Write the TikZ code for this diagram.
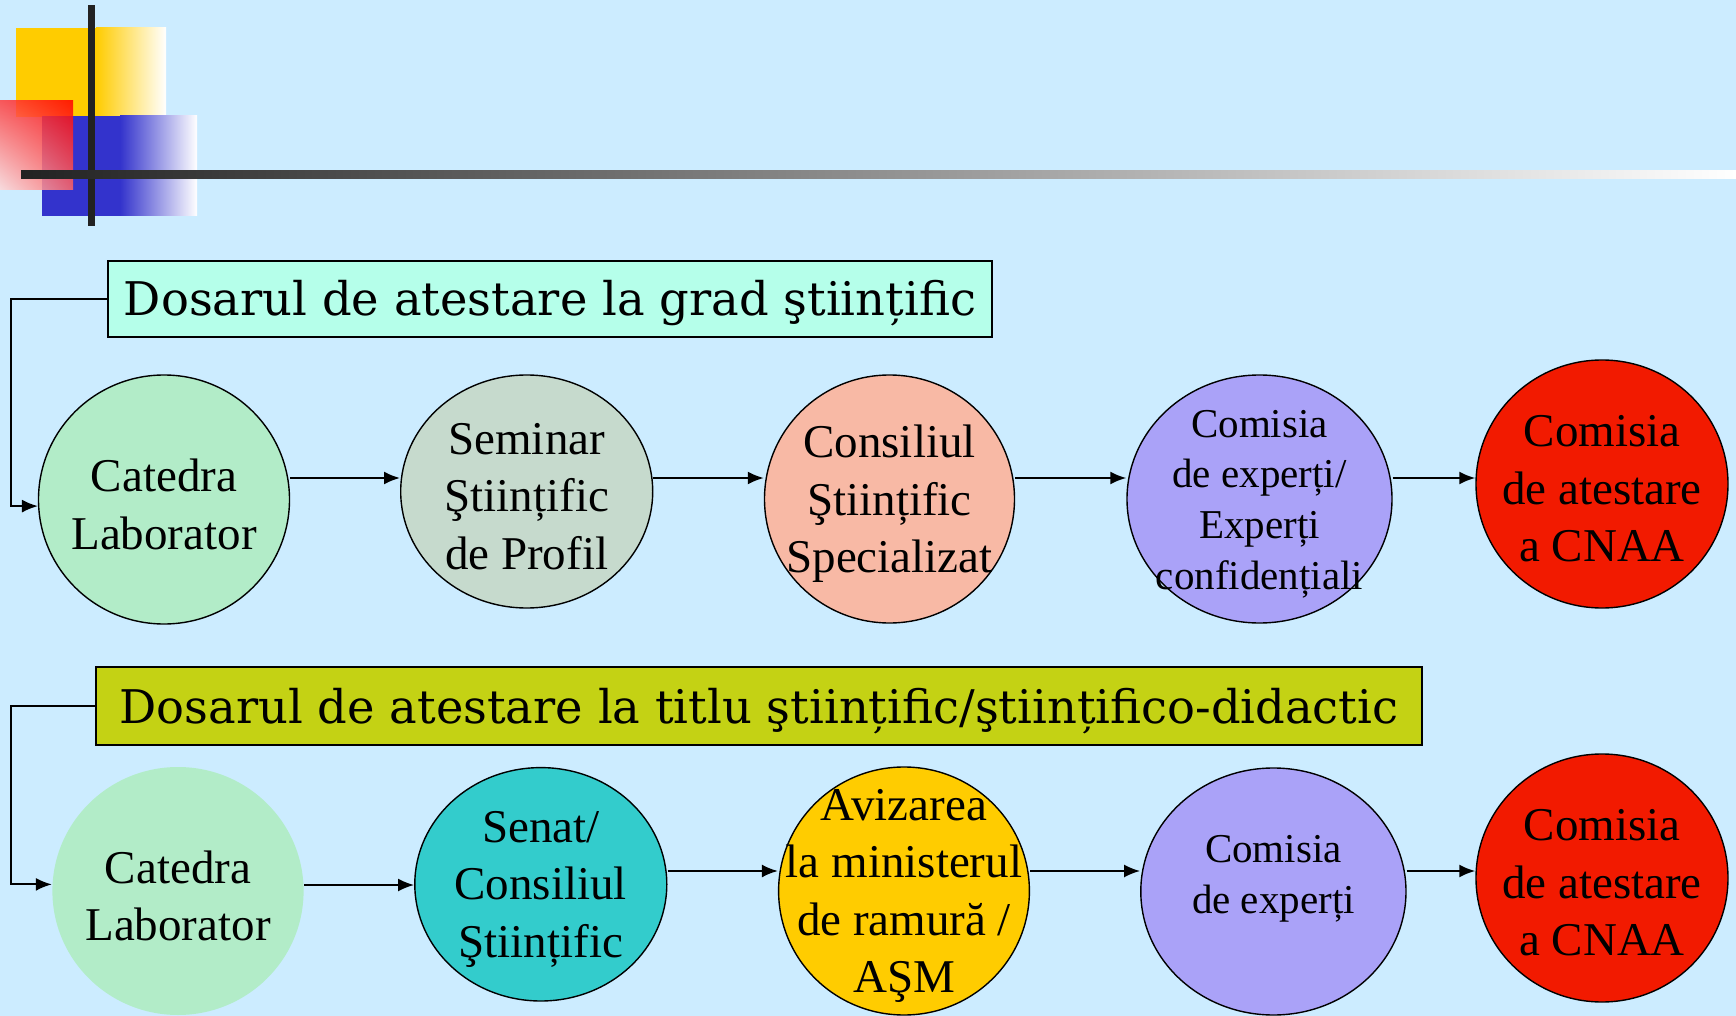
\documentclass[tikz,border=0pt]{standalone}
\usepackage{fontspec}
\setmainfont{Liberation Serif}
\newfontfamily\titlefont{DejaVu Serif}
\usetikzlibrary{shapes.geometric, arrows.meta, shadings}

\definecolor{sky}{RGB}{204,236,255}
\definecolor{ink}{RGB}{34,34,34}
\definecolor{yel}{RGB}{255,204,0}
\definecolor{blu}{RGB}{51,51,204}
\definecolor{aqua}{RGB}{181,255,234}
\definecolor{olive}{RGB}{196,210,20}
\definecolor{mint}{RGB}{178,236,200}
\definecolor{sage}{RGB}{198,218,205}
\definecolor{salmon}{RGB}{248,185,165}
\definecolor{lilac}{RGB}{170,162,248}
\definecolor{scarlet}{RGB}{242,26,0}
\definecolor{teal}{RGB}{51,204,204}

\begin{document}
\begin{tikzpicture}[x=0.5pt, y=-0.5pt]
      \tikzstyle{bub}=[shape=ellipse, draw, line width=0.7pt, inner sep=0pt,
                       minimum width=126pt, minimum height=124pt]
      \tikzstyle{lbl}=[align=center, yshift=-2.5pt, font=\fontsize{23.5}{28.8}\selectfont]
      \tikzstyle{small}=[align=center, yshift=-2.5pt, font=\fontsize{20.5}{25.3}\selectfont]
      \tikzstyle{title}=[draw, line width=1pt, inner sep=0pt, text height=20pt, text depth=3pt,
                         font=\titlefont\fontsize{23.2}{26}\selectfont]
      \tikzstyle{arrow}=[line width=1pt, -{Latex[length=8pt, width=6.5pt]}]

      % background and corner decoration
      \fill[sky] (0, 0) rectangle (1736, 1016);
      \useasboundingbox (0, 0) rectangle (1736, 1016);
      \fill[yel] (15.7, 28) rectangle (96, 117);
      \shade[left color=yel, right color=white] (96, 28) rectangle (166, 117);
      \fill[blu] (41.5, 116) rectangle (120, 216);
      \shade[left color=blu, right color=white] (120, 116) rectangle (197, 216);
      \shade[opacity=0.85, upper right=red, upper left=red!75,
             lower right=red!60, lower left=red!15] (0, 101) rectangle (73, 190);
      \fill[ink] (88, 5) rectangle (94.5, 226);
      \shade[left color=ink, right color=white] (21, 171) rectangle (1736, 179);

      % titles
      \node[title, fill=aqua, minimum width=441.75pt, minimum height=37.8pt]
        (grad) at (550, 299) {Dosarul de atestare la grad ştiințific};
      \node[title, fill=olive, minimum width=662.9pt, minimum height=39pt]
        (titlu) at (759, 706) {Dosarul de atestare la titlu ştiințific/ştiințifico-didactic};

      % first row
      \node[bub, fill=mint, minimum width=125.5pt, minimum height=124.5pt,
            label={[lbl]center:Catedra\\Laborator}] (c1) at (164, 499.5) {};
      \node[bub, fill=sage, minimum height=116.5pt,
            label={[lbl]center:Seminar\\Ştiințific\\de Profil}] (c2) at (526.7, 491.5) {};
      \node[bub, fill=salmon, minimum width=125pt,
            label={[lbl]center:Consiliul\\Ştiințific\\Specializat}] (c3) at (889.5, 499) {};
      \node[bub, fill=lilac, minimum width=132.5pt,
            label={[small]center:Comisia\\de experți/\\Experți\\confidențiali}] (c4) at (1259.5, 499) {};
      \node[bub, fill=scarlet,
            label={[lbl]center:Comisia\\de atestare\\a CNAA}] (c5) at (1602, 484) {};

      % second row
      \node[bub, draw=none, fill=mint, minimum width=125.6pt,
            label={[lbl]center:Catedra\\Laborator}] (d1) at (178, 891) {};
      \node[bub, fill=teal, minimum height=116.7pt,
            label={[lbl]center:Senat/\\Consiliul\\Ştiințific}] (d2) at (540.8, 884.3) {};
      \node[bub, fill=yel, minimum width=125.4pt,
            label={[lbl]center:Avizarea\\la ministerul\\de ramură /\\AŞM}] (d3) at (904, 891) {};
      \node[bub, fill=lilac, minimum width=132.6pt, minimum height=123.5pt,
            label={[small, yshift=9pt]center:Comisia\\de experți}] (d4) at (1273.4, 891.5) {};
      \node[bub, fill=scarlet,
            label={[lbl]center:Comisia\\de atestare\\a CNAA}] (d5) at (1602, 878) {};

      \coordinate (lft) at (11, 0);
      \coordinate (r1) at (0, 478);
      \coordinate (r2) at (0, 871);
      \coordinate (r3) at (0, 885);

      \draw[arrow] (grad.west) -- (grad.west -| lft) |- (c1.183);
      \draw[arrow] (titlu.west) -- (titlu.west -| lft) |- (d1.177);

      \foreach \src/\dst/\lvl in {c1/c2/r1, c2/c3/r1, c3/c4/r1, c4/c5/r1,
                                  d1/d2/r3, d2/d3/r2, d3/d4/r2, d4/d5/r2} {%
        \draw[arrow] (\src.east |- \lvl) -- (\dst.west |- \lvl);
      }
\end{tikzpicture}
\end{document}
